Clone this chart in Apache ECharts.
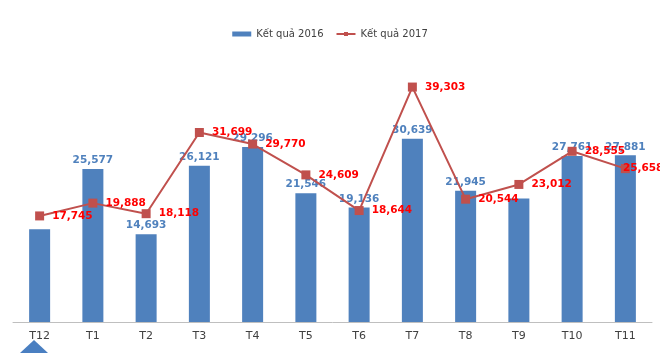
<!DOCTYPE html>
<html>
<head>
<meta charset="utf-8">
<script src="https://cdn.jsdelivr.net/npm/echarts@6/dist/echarts.min.js"></script>
<style>
  html, body { margin: 0; padding: 0; background: #fff; }
  #chart { width: 660px; height: 353px; }
</style>
</head>
<body>
<div id="chart"></div>
<script>
const months = ['T12', 'T1', 'T2', 'T3', 'T4', 'T5', 'T6', 'T7', 'T8', 'T9', 'T10', 'T11'];
const result2016 = [15520, 25577, 14693, 26121, 29296, 21546, 19136, 30639, 21945, 20660, 27761, 27881];
const result2017 = [17745, 19888, 18118, 31699, 29770, 24609, 18644, 39303, 20544, 23012, 28555, 25658];
// bars without a printed value in the picture
const hideLabel2016 = ['T12', 'T9'];

const fmt = v => v.toLocaleString('en-US');

echarts.init(document.querySelector('#chart')).setOption({
    animation: false,
    textStyle: { fontFamily: 'DejaVu Sans' },
    legend: {
        top: 24,
        left: 'center',
        itemGap: 12,
        itemWidth: 19,
        itemHeight: 5,
        textStyle: { fontSize: 10, color: '#404040' },
        data: [
            { name: 'Kết quả 2016', icon: 'rect' },
            { name: 'Kết quả 2017' }
        ]
    },
    grid: { left: 13, right: 8, top: 53, bottom: 31 },
    xAxis: {
        type: 'category',
        data: months,
        axisLine: { lineStyle: { color: '#bfbfbf' } },
        axisTick: { show: false },
        axisLabel: { color: '#404040', fontSize: 11, margin: 9 }
    },
    yAxis: {
        type: 'value',
        min: 0,
        max: 45000,
        show: false,
        splitLine: { show: false }
    },
    series: [
        {
            name: 'Kết quả 2016',
            type: 'bar',
            barWidth: 21,
            itemStyle: { color: '#4f81bd' },
            data: result2016.map((v, i) => ({
                value: v,
                label: { show: !hideLabel2016.includes(months[i]) }
            })),
            label: {
                position: 'top',
                distance: 3,
                color: '#4f81bd',
                fontSize: 10.5,
                fontWeight: 'bold',
                formatter: p => fmt(p.value)
            }
        },
        {
            name: 'Kết quả 2017',
            type: 'line',
            data: result2017.map((v, i) => i === result2017.length - 1
                ? { value: v, label: { distance: -7 } }
                : v),
            symbol: 'rect',
            symbolSize: 9,
            lineStyle: { color: '#c0504d', width: 2 },
            itemStyle: { color: '#c0504d' },
            label: {
                show: true,
                position: 'right',
                distance: 8,
                color: '#ff0000',
                fontSize: 10.5,
                fontWeight: 'bold',
                formatter: p => fmt(p.value)
            }
        }
    ],
    graphic: [{
        type: 'polygon',
        shape: { points: [[20, 353], [34, 340], [48, 353]] },
        style: { fill: '#4a7fc1' }
    }]
});
</script>
</body>
</html>
